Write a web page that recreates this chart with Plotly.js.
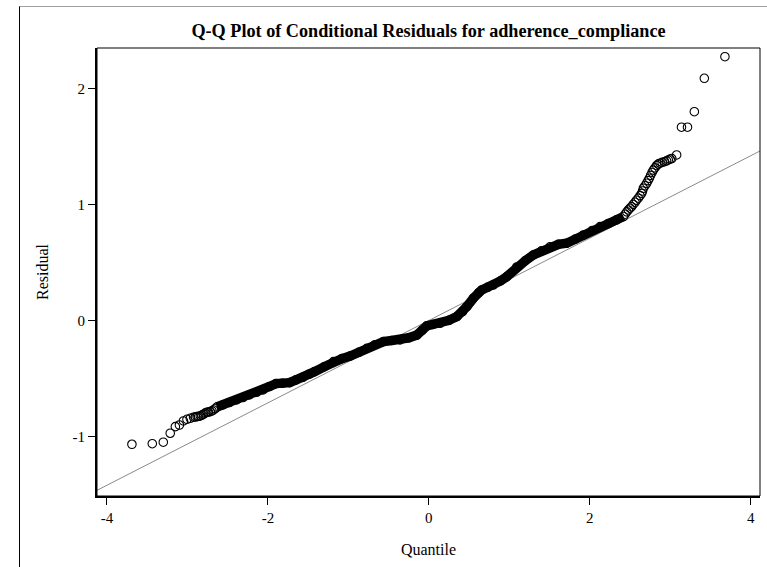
<!DOCTYPE html>
<html>
<head>
<meta charset="utf-8">
<script src="https://cdn.plot.ly/plotly-3.0.1.min.js"></script>
<style>
  html, body { margin: 0; padding: 0; background: #fff; }
  #wrap { position: relative; width: 767px; height: 567px; }
  #chart { position: absolute; left: 0; top: 0; width: 767px; height: 567px; }
  #frame { position: absolute; left: 19px; top: 6px; width: 748px; height: 561px;
           border-top: 1px solid #a0a0a0; border-left: 1px solid #000; box-sizing: border-box; pointer-events: none; }
</style>
</head>
<body>
<div id="wrap">
  <div id="chart"></div>
  <div id="frame"></div>
</div>
<script>
// Lower tail (individually visible circles)
const lowX = [-3.69,-3.437,-3.30,-3.214,-3.15,-3.10,-3.05,-3.006,-2.965,-2.924,-2.90,-2.88,-2.86,-2.84,-2.82,-2.80,-2.78,-2.758,-2.74,-2.717,-2.695,-2.676,-2.655];
const lowY = [-1.063,-1.058,-1.045,-0.968,-0.911,-0.897,-0.862,-0.848,-0.839,-0.830,-0.827,-0.825,-0.822,-0.819,-0.812,-0.804,-0.795,-0.787,-0.785,-0.782,-0.775,-0.767,-0.755];

// Dense body (solid band of overlapping circles)
const bodyX = [-2.634,-2.56,-2.48,-2.39,-2.31,-2.23,-2.14,-2.06,-1.98,-1.90,-1.82,-1.73,-1.65,-1.565,-1.49,-1.42,-1.30,-1.185,-1.08,-0.978,-0.87,-0.77,-0.67,-0.564,-0.46,-0.357,-0.25,-0.149,-0.08,-0.025,0.05,0.14,0.25,0.348,0.42,0.472,0.554,0.62,0.658,0.73,0.80,0.89,0.969,1.093,1.20,1.30,1.40,1.507,1.61,1.714,1.82,1.92,2.03,2.128,2.23,2.335,2.42];
const bodyY = [-0.742,-0.724,-0.703,-0.681,-0.660,-0.638,-0.615,-0.595,-0.565,-0.540,-0.537,-0.532,-0.508,-0.486,-0.460,-0.437,-0.395,-0.351,-0.325,-0.302,-0.270,-0.236,-0.205,-0.178,-0.168,-0.164,-0.145,-0.121,-0.080,-0.043,-0.030,-0.020,0.005,0.037,0.080,0.123,0.196,0.245,0.267,0.290,0.310,0.345,0.382,0.465,0.520,0.569,0.605,0.640,0.660,0.670,0.705,0.741,0.780,0.813,0.840,0.871,0.900];

// Upper tail
const highX = [2.44,2.46,2.48,2.50,2.52,2.54,2.563,2.58,2.604,2.625,2.646,2.656,2.666,2.686,2.708,2.725,2.74,2.757,2.775,2.79,2.81,2.832,2.85,2.873,2.90,2.93,2.955,2.976,3.00,3.02,3.08,3.14,3.215,3.30,3.424,3.68];
const highY = [0.920,0.940,0.957,0.972,0.985,1.005,1.023,1.040,1.058,1.080,1.100,1.120,1.144,1.165,1.187,1.210,1.230,1.255,1.280,1.300,1.320,1.340,1.352,1.360,1.367,1.373,1.380,1.388,1.395,1.400,1.431,1.670,1.670,1.804,2.092,2.278];

// Reference line
const refSlope = 0.355;
const refIntercept = 0.004;
const refX = [-4.3, 4.3];

// Ticks
const xTickVals = [-4, -2, 0, 2, 4];
const xTickText = ["-4", "-2", "0", "2", "4"];
const yTickVals = [-1, 0, 1, 2];
const yTickText = ["-1", "0", "1", "2"];

const allX = lowX.concat(bodyX, highX);
const allY = lowY.concat(bodyY, highY);

const serif = "Liberation Serif, Times New Roman, serif";

const traces = [
  {
    x: refX, y: refX.map(v => refIntercept + refSlope * v),
    mode: "lines", line: {color: "#8a8a8a", width: 1},
    hoverinfo: "skip", showlegend: false
  },
  {
    x: bodyX, y: bodyY,
    mode: "lines", line: {color: "#000", width: 9.5},
    hoverinfo: "skip", showlegend: false
  },
  {
    x: allX, y: allY,
    mode: "markers",
    marker: {symbol: "circle-open", size: 8.5, color: "#000", line: {width: 1.1, color: "#000"}},
    showlegend: false
  }
];

const layout = {
  width: 767, height: 567,
  margin: {l: 97, r: 7, t: 48, b: 71, pad: 0},
  paper_bgcolor: "rgba(0,0,0,0)",
  plot_bgcolor: "#fff",
  font: {family: serif, color: "#000", size: 15},
  title: {
    text: "<b>Q-Q Plot of Conditional Residuals for adherence_compliance</b>",
    font: {family: serif, size: 18.2, color: "#000"},
    x: 0.5, xref: "paper", xanchor: "center",
    y: 1 - 31/567, yref: "container", yanchor: "middle"
  },
  xaxis: {
    range: [-4.124, 4.116],
    tickvals: xTickVals, ticktext: xTickText,
    ticks: "outside", ticklen: 7, tickwidth: 1, tickcolor: "#000",
    showline: true, linecolor: "#000", linewidth: 2, mirror: false,
    showgrid: false, zeroline: false,
    tickfont: {family: serif, size: 15, color: "#000"},
    title: {text: "Quantile", font: {family: serif, size: 16, color: "#000"}, standoff: 19}
  },
  yaxis: {
    range: [-1.509, 2.353],
    tickvals: yTickVals, ticktext: yTickText,
    ticks: "outside", ticklen: 7, tickwidth: 1, tickcolor: "#000",
    showline: true, linecolor: "#000", linewidth: 2, mirror: false,
    showgrid: false, zeroline: false,
    tickfont: {family: serif, size: 15, color: "#000"},
    title: {text: "Residual", font: {family: serif, size: 16, color: "#000"}, standoff: 20}
  },
  shapes: [
    {type: "rect", xref: "paper", yref: "paper", x0: 0, x1: 1, y0: 0, y1: 1,
     line: {color: "#000", width: 1}, fillcolor: "rgba(0,0,0,0)", layer: "above"}
  ]
};

Plotly.newPlot("chart", traces, layout, {displayModeBar: false, staticPlot: true});
</script>
</body>
</html>
